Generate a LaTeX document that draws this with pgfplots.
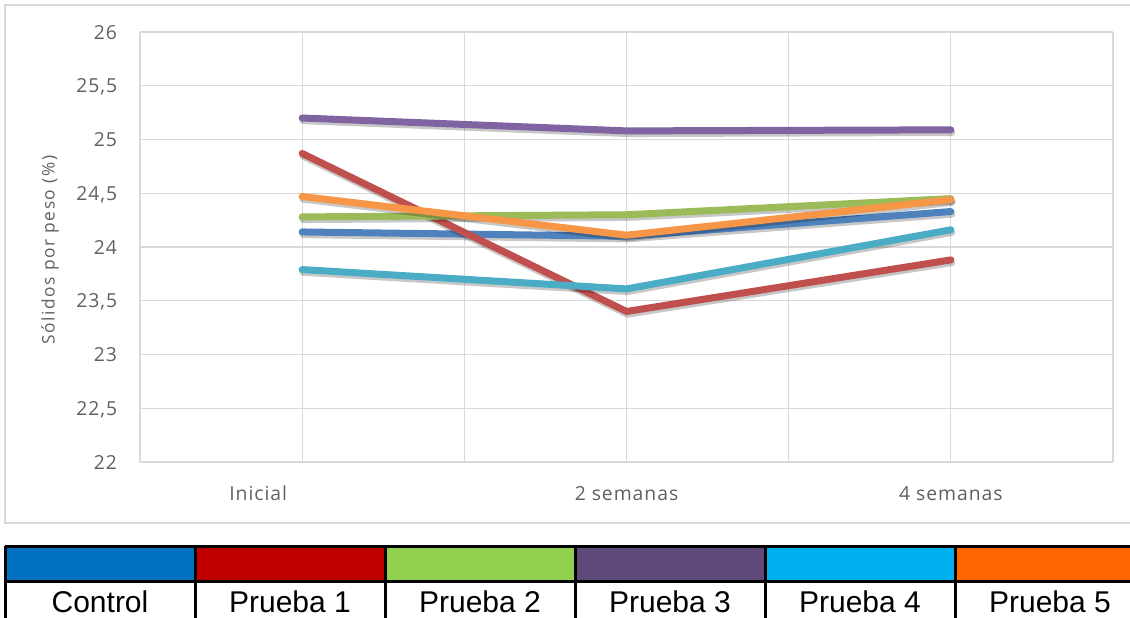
\documentclass[border=0pt]{standalone}
\usepackage{pgfplots}
\pgfplotsset{compat=1.18}
\usepackage{pgfplotstable}
\usepackage{fontspec}
\setmainfont{Liberation Sans}
\newfontfamily\tickfont[LetterSpace=5]{Open Sans}
\newfontfamily\labelfont[LetterSpace=9]{Open Sans}

\definecolor{gridgray}{HTML}{D9D9D9}
\definecolor{tickgray}{HTML}{606060}
\definecolor{cCtrl}{HTML}{4F81BD}
\definecolor{cP1}{HTML}{C0504D}
\definecolor{cP2}{HTML}{9BBB59}
\definecolor{cP3}{HTML}{8064A2}
\definecolor{cP4}{HTML}{4BACC6}
\definecolor{cP5}{HTML}{F79646}
\definecolor{kCtrl}{HTML}{0070C0}
\definecolor{kP1}{HTML}{C00000}
\definecolor{kP2}{HTML}{92D050}
\definecolor{kP3}{HTML}{5F497A}
\definecolor{kP4}{HTML}{00B0F0}
\definecolor{kP5}{HTML}{FF6600}

% Sólidos por peso (%) at 0, 2 and 4 weeks
\pgfplotstableread{
t   ctrl   p1     p2     p3     p4     p5
1   24.14  24.87  24.28  25.20  23.79  24.47
3   24.10  23.40  24.30  25.08  23.61  24.11
5   24.33  23.88  24.45  25.09  24.16  24.44
}\solidos

\pgfplotsset{
  serie/.style={line width=5.25pt, line cap=round, line join=round, no markers, draw=#1},
  sombra/.style={line width=5.25pt, line cap=round, line join=round, no markers,
                 draw=black, draw opacity=0.22, xshift=0.7pt, yshift=-2pt},
}

\begin{document}
\begin{tikzpicture}
\path[use as bounding box] (0,0) rectangle (847.5pt,-462.75pt);

% chart frame
\draw[gridgray, line width=0.9pt] (3.75pt,-3.75pt) rectangle (860pt,-392.25pt);

\begin{axis}[
  at={(105pt,-346.5pt)}, anchor=south west,
  scale only axis, width=729.75pt, height=322.5pt,
  xmin=0, xmax=6, ymin=22, ymax=26,
  xtick={0,...,6},
  xticklabels={,{Inicial\hspace*{66pt}},,2 semanas,,4 semanas,},
  ytick={22,22.5,...,26},
  grid=major,
  major grid style={gridgray, line width=0.8pt},
  axis line style={draw=none},
  major tick length=0pt,
  /pgf/number format/use comma,
  /pgf/number format/assume math mode=true,
  ticklabel style={font=\tickfont\fontsize{14.5}{16}\selectfont, text=tickgray},
  yticklabel style={anchor=east, inner sep=0pt, xshift=-17pt, text depth=0pt},
  xticklabel style={anchor=base, inner sep=0pt, yshift=-28.5pt},
  ylabel={Sólidos por peso (\%)},
  ylabel style={font=\labelfont\fontsize{13}{15}\selectfont, text=tickgray,
                at={(axis description cs:-0.0925,0.493)}, anchor=center},
  clip=false,
]
\addplot[sombra] table[x=t, y=ctrl] {\solidos};
\addplot[serie=cCtrl] table[x=t, y=ctrl] {\solidos};
\addplot[sombra] table[x=t, y=p1] {\solidos};
\addplot[serie=cP1] table[x=t, y=p1] {\solidos};
\addplot[sombra] table[x=t, y=p2] {\solidos};
\addplot[serie=cP2] table[x=t, y=p2] {\solidos};
\addplot[sombra] table[x=t, y=p3] {\solidos};
\addplot[serie=cP3] table[x=t, y=p3] {\solidos};
\addplot[sombra] table[x=t, y=p4] {\solidos};
\addplot[serie=cP4] table[x=t, y=p4] {\solidos};
\addplot[sombra] table[x=t, y=p5] {\solidos};
\addplot[serie=cP5] table[x=t, y=p5] {\solidos};
\end{axis}

% legend table below the chart
\begin{scope}[x=0.75pt, y=-0.75pt]
  \foreach \c [count=\i from 0] in {kCtrl,kP1,kP2,kP3,kP4,kP5} {
    \fill[\c] (5+190*\i,546) rectangle (195+190*\i,581);
  }
  \foreach \n [count=\i from 0] in {Control,Prueba 1,Prueba 2,Prueba 3,Prueba 4,Prueba 5} {
    \node[anchor=base, inner sep=0pt, font=\fontsize{22.5}{25}\selectfont]
      at (100+190*\i,612) {\n};
  }
  \draw[black, line width=2.25pt] (5,546) -- (1140,546);
  \draw[black, line width=2.25pt] (5,581) -- (1140,581);
  \foreach \i in {0,...,6} {
    \draw[black, line width=2.25pt] (5+190*\i,546) -- (5+190*\i,630);
  }
\end{scope}
\end{tikzpicture}
\end{document}
